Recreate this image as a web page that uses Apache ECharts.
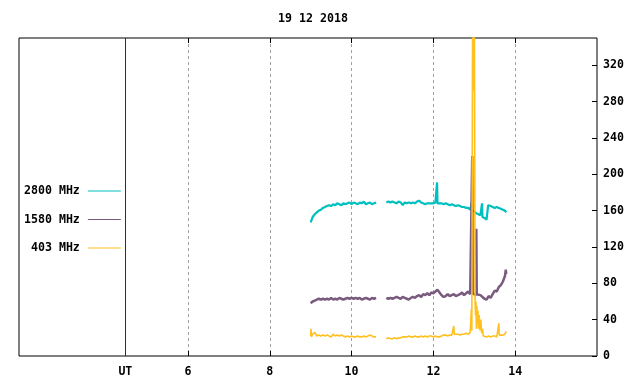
<!DOCTYPE html>
<html>
<head>
<meta charset="utf-8">
<script src="https://cdn.jsdelivr.net/npm/echarts@6/dist/echarts.min.js"></script>
<style>html,body{margin:0;padding:0;background:#fff}#c{width:640px;height:384px}</style>
</head>
<body>
<div id="c"></div>
<script>
const titleText = '19 12 2018';
const xMin = 1.87, xMax = 16;
const xTickValues = [6, 8, 10, 12, 14];
const utPosition = 4.47;
const yMin = 0, yMax = 350;
const yTickValues = [0, 40, 80, 120, 160, 200, 240, 280, 320];
const seriesNames = ['2800 MHz', '1580 MHz', '403 MHz'];

const data2800 = [
[9.00,147],[9.05,153],[9.10,156],[9.15,158],[9.20,160],[9.25,161],[9.30,163],[9.35,164],[9.40,165],[9.45,166],
[9.50,165],[9.55,167],[9.60,166],[9.65,168],[9.70,167],[9.75,166],[9.80,168],[9.85,167],[9.90,168],[9.95,169],
[10.00,167],[10.05,169],[10.10,168],[10.15,167],[10.20,169],[10.25,168],[10.30,170],[10.35,167],[10.40,168],[10.45,169],
[10.50,167],[10.55,168],[10.60,169],[10.75,null],
[10.85,169],[10.90,170],[10.95,169],[11.00,170],[11.05,169],[11.10,168],[11.15,170],[11.20,169],[11.25,166],[11.30,169],
[11.35,168],[11.40,169],[11.45,168],[11.50,169],[11.55,168],[11.60,170],[11.65,171],[11.70,169],[11.75,168],[11.80,167],
[11.85,168],[11.90,168],[11.95,168],[12.00,168],[12.05,169],[12.08,168],[12.09,191],[12.10,168],[12.15,168],[12.20,168],
[12.25,167],[12.30,168],[12.35,167],[12.40,166],[12.45,167],[12.50,166],[12.55,165],[12.60,166],[12.65,165],[12.70,164],
[12.75,164],[12.80,163],[12.85,163],[12.90,161],[12.93,160],[12.94,169],[12.95,160],[13.00,159],[13.05,157],[13.10,156],
[13.15,155],[13.18,154],[13.19,168],[13.20,153],[13.25,152],[13.30,150],[13.32,149],[13.34,166],[13.40,165],[13.45,164],
[13.50,163],[13.55,164],[13.60,163],[13.65,162],[13.70,161],[13.75,160],[13.78,158]
];

const data1580 = [
[9.00,58],[9.05,60],[9.10,61],[9.15,62],[9.20,63],[9.25,62],[9.30,63],[9.35,62],[9.40,63],[9.45,62],
[9.50,64],[9.55,62],[9.60,63],[9.65,62],[9.70,64],[9.75,63],[9.80,62],[9.85,63],[9.90,64],[9.95,63],
[10.00,64],[10.05,63],[10.10,64],[10.15,63],[10.20,64],[10.25,62],[10.30,63],[10.35,64],[10.40,63],[10.45,62],
[10.50,64],[10.55,63],[10.60,64],[10.75,null],
[10.85,64],[10.90,63],[10.95,64],[11.00,63],[11.05,64],[11.10,65],[11.15,64],[11.20,63],[11.25,65],[11.30,64],
[11.35,63],[11.40,62],[11.45,64],[11.50,65],[11.55,64],[11.60,66],[11.65,67],[11.70,65],[11.75,68],[11.80,67],
[11.85,69],[11.90,67],[11.95,70],[12.00,69],[12.05,71],[12.10,73],[12.15,70],[12.20,67],[12.25,65],[12.30,66],
[12.35,68],[12.40,66],[12.45,67],[12.50,68],[12.55,66],[12.60,67],[12.65,68],[12.70,70],[12.75,67],[12.80,69],
[12.85,71],[12.90,68],[12.94,70],[12.95,220],[12.96,69],[13.00,71],[13.04,67],[13.05,140],[13.06,68],[13.10,69],
[13.15,67],[13.20,65],[13.25,63],[13.30,62],[13.35,66],[13.40,64],[13.45,68],[13.50,72],[13.55,71],[13.60,76],
[13.65,78],[13.70,82],[13.72,80],[13.75,88],[13.77,95],[13.78,90]
];

const data403 = [
[9.00,22],[9.01,30],[9.02,21],[9.05,24],[9.08,22],[9.10,26],[9.15,22],[9.20,23],[9.25,22],[9.30,23],
[9.35,22],[9.40,23],[9.45,22],[9.50,21],[9.55,24],[9.60,22],[9.65,23],[9.70,22],[9.75,23],[9.80,22],
[9.85,21],[9.90,22],[9.95,21],[10.00,22],[10.05,21],[10.10,21],[10.15,22],[10.20,21],[10.25,21],[10.30,22],
[10.35,21],[10.40,22],[10.45,23],[10.50,22],[10.55,21],[10.60,21],[10.75,null],
[10.85,19],[10.90,20],[10.95,19],[11.00,19],[11.05,20],[11.10,19],[11.15,20],[11.20,20],[11.25,21],[11.30,21],
[11.35,21],[11.40,22],[11.45,21],[11.50,21],[11.55,22],[11.60,21],[11.65,21],[11.70,22],[11.75,21],[11.80,22],
[11.85,21],[11.90,22],[11.95,22],[12.00,21],[12.05,22],[12.10,21],[12.15,21],[12.20,22],[12.25,23],[12.30,23],
[12.35,22],[12.40,23],[12.45,23],[12.49,23],[12.50,33],[12.51,24],[12.55,23],[12.60,24],[12.65,23],[12.70,24],
[12.75,24],[12.80,25],[12.85,24],[12.90,26],[12.92,28],[12.93,52],[12.94,28],[12.96,400],[12.98,292],[13.00,400],
[13.02,60],[13.03,45],[13.04,60],[13.05,30],[13.06,55],[13.08,35],[13.09,50],[13.10,30],[13.12,45],[13.14,28],
[13.16,40],[13.18,25],[13.20,30],[13.22,22],[13.25,21],[13.30,21],[13.35,22],[13.40,21],[13.45,22],[13.50,22],
[13.55,21],[13.59,22],[13.60,36],[13.61,23],[13.65,22],[13.70,23],[13.75,24],[13.78,27]
];

const colors = ['#00bfbf', '#7a5a7e', '#ffc020'];
const widths = [2.2, 2.5, 1.6];
const FONT = 'DejaVu Sans Mono';

const chart = echarts.init(document.getElementById('c'), null, {renderer: 'canvas'});
const mkSeries = (name, data, color, width, extra) => Object.assign({
  name, type: 'line', data, xAxisIndex: 0, yAxisIndex: 0,
  showSymbol: false, symbol: 'none', connectNulls: false,
  lineStyle: {color, width}, itemStyle: {color},
  emphasis: {disabled: true}, animation: false, clip: true, z: 3
}, extra || {});

chart.setOption({
  animation: false,
  title: {
    text: titleText, left: 308, top: 8, textAlign: 'center',
    textStyle: {fontFamily: FONT, fontSize: 11.6, fontWeight: 'bold', color: '#000'}
  },
  grid: {left: 19, right: 43, top: 38, bottom: 28, show: true, borderColor: '#000', borderWidth: 1, backgroundColor: 'transparent'},
  legend: {
    orient: 'vertical', left: 19, top: 179, align: 'right',
    itemWidth: 33, itemHeight: 1, itemGap: 14.5, icon: 'rect',
    formatter: n => n.padStart(8, ' '),
    textStyle: {fontFamily: FONT, fontSize: 11.6, fontWeight: 'bold', color: '#000', lineHeight: 14, padding: [0, 3, 0, 0]},
    data: seriesNames.map((n, i) => ({name: n, itemStyle: {color: colors[i]}}))
  },
  xAxis: [{
    type: 'value', min: xMin, max: xMax, position: 'bottom',
    axisLine: {show: false},
    axisTick: {show: true, inside: true, length: 5, lineStyle: {color: '#000'}, customValues: xTickValues},
    axisLabel: {
      show: true, margin: 10, customValues: [utPosition].concat(xTickValues),
      formatter: v => Math.abs(v - utPosition) < 0.001 ? 'UT' : String(v),
      fontFamily: FONT, fontSize: 11.6, fontWeight: 'bold', color: '#000'
    },
    splitLine: {show: true, lineStyle: {color: '#a0a0a0', type: [3, 3], width: 1}}
  }, {
    type: 'value', min: xMin, max: xMax, position: 'top',
    axisLine: {show: false},
    axisTick: {show: true, inside: true, length: 5, lineStyle: {color: '#000'}, customValues: xTickValues},
    axisLabel: {show: false},
    splitLine: {show: false}
  }],
  yAxis: [{
    type: 'value', min: yMin, max: yMax, position: 'right',
    axisLine: {show: false},
    axisTick: {show: true, inside: true, length: 5, lineStyle: {color: '#000'}, customValues: yTickValues},
    axisLabel: {
      show: true, margin: 6, customValues: yTickValues,
      fontFamily: FONT, fontSize: 11.6, fontWeight: 'bold', color: '#000'
    },
    splitLine: {show: false}
  }],
  series: [
    mkSeries(seriesNames[0], data2800, colors[0], widths[0], {
      markLine: {
        silent: true, symbol: ['none', 'none'], animation: false,
        label: {show: false},
        lineStyle: {color: '#990000', type: 'solid', width: 1},
        emphasis: {disabled: true},
        data: [{xAxis: utPosition}]
      }
    }),
    mkSeries(seriesNames[1], data1580, colors[1], widths[1]),
    mkSeries(seriesNames[2], data403, colors[2], widths[2])
  ]
});
</script>
</body>
</html>
